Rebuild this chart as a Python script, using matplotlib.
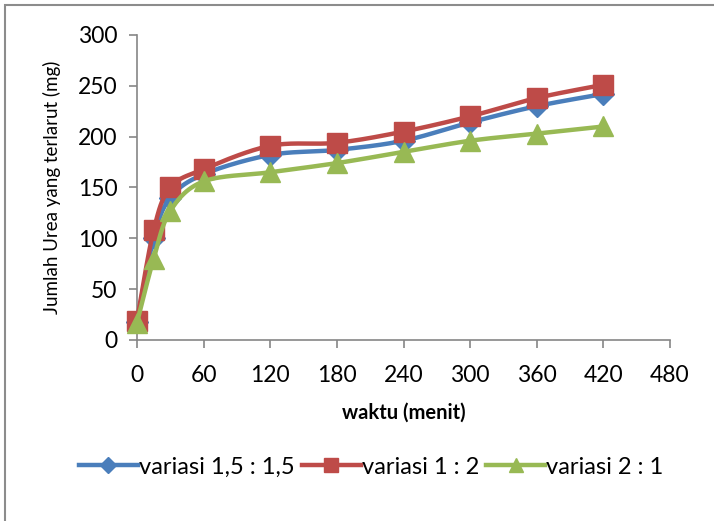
import numpy as np
import matplotlib
matplotlib.use("Agg")
import matplotlib.pyplot as plt
from matplotlib.patches import Rectangle

plt.rcParams['font.family'] = ['Lato', 'DejaVu Sans']

waktu = [0, 15, 30, 60, 120, 180, 240, 300, 360, 420]
variasi_15_15 = [18, 100, 140, 163, 182, 187, 196, 214, 230, 242]
variasi_1_2 = [19, 108, 150, 168, 191, 194, 205, 220, 238, 251]
variasi_2_1 = [17, 80, 127, 156, 165, 174, 185, 196, 203, 210]

series_labels = ['variasi 1,5 : 1,5', 'variasi 1 : 2', 'variasi 2 : 1']
x_ticks = [0, 60, 120, 180, 240, 300, 360, 420, 480]
y_ticks = [0, 50, 100, 150, 200, 250, 300]


def smooth(xs, ys, n=30):
    """Catmull-Rom curve through the points (Excel-style smoothed line)."""
    xs = np.asarray(xs, float)
    ys = np.asarray(ys, float)
    px = np.concatenate([[xs[0]], xs, [xs[-1]]])
    py = np.concatenate([[ys[0]], ys, [ys[-1]]])
    out_x, out_y = [], []
    t = np.linspace(0, 1, n)
    for i in range(1, len(px) - 2):
        p0x, p1x, p2x, p3x = px[i - 1:i + 3]
        p0y, p1y, p2y, p3y = py[i - 1:i + 3]
        c1x, c1y = p1x + (p2x - p0x) / 6, p1y + (p2y - p0y) / 6
        c2x, c2y = p2x - (p3x - p1x) / 6, p2y - (p3y - p1y) / 6
        bx = (1 - t) ** 3 * p1x + 3 * (1 - t) ** 2 * t * c1x + 3 * (1 - t) * t ** 2 * c2x + t ** 3 * p2x
        by = (1 - t) ** 3 * p1y + 3 * (1 - t) ** 2 * t * c1y + 3 * (1 - t) * t ** 2 * c2y + t ** 3 * p2y
        out_x.extend(bx)
        out_y.extend(by)
    return np.array(out_x), np.array(out_y)


fig = plt.figure(figsize=(7.14, 5.21), dpi=100)
fig.patches.append(Rectangle((5 / 714, -0.1), 1.2, 1 - 5 / 521 + 0.1,
                             transform=fig.transFigure, fill=False,
                             edgecolor='#8c8c8c', linewidth=1.5))

ax = fig.add_axes([137 / 714, 1 - 340 / 521, 533 / 714, 305 / 521])

styles = [
    (variasi_15_15, '#4A7EBB', 'D', 11),
    (variasi_1_2, '#BE4B48', 's', 14),
    (variasi_2_1, '#98B954', '^', 15),
]
handles = []
for (vals, color, marker, ms), label in zip(styles, series_labels):
    sx, sy = smooth(waktu, vals)
    ax.plot(sx, sy, color=color, linewidth=3.2, solid_capstyle='round',
            zorder=3, clip_on=False)
    ax.plot(waktu, vals, linestyle='none', marker=marker, markersize=ms,
            color=color, markeredgecolor=color, zorder=3, clip_on=False)
    h, = ax.plot([], [], color=color, linewidth=3.2, marker=marker,
                 markersize=ms * 0.7, markeredgecolor=color, label=label)
    handles.append(h)

ax.set_xlim(0, 480)
ax.set_ylim(0, 300)
ax.set_xticks(x_ticks)
ax.set_yticks(y_ticks)
ax.tick_params(axis='both', labelsize=16.5, color='#868686', length=6, width=1.2,
               direction='out')
ax.tick_params(axis='x', pad=12)
ax.tick_params(axis='y', pad=8)
for side in ['top', 'right']:
    ax.spines[side].set_visible(False)
for side in ['left', 'bottom']:
    ax.spines[side].set_color('#868686')
    ax.spines[side].set_linewidth(1.2)

ax.set_xlabel('waktu (menit)', fontsize=14.5, fontweight='bold', labelpad=12)
ax.set_ylabel('Jumlah Urea yang terlarut (mg)', fontsize=13.5, labelpad=12)

fig.legend(handles=handles, loc='center', bbox_to_anchor=(0.52, 1 - 467 / 521),
           ncol=3, frameon=False, fontsize=17, handlelength=2.5,
           handletextpad=0.05, columnspacing=0.3)

fig.savefig('out.png', dpi=100)
